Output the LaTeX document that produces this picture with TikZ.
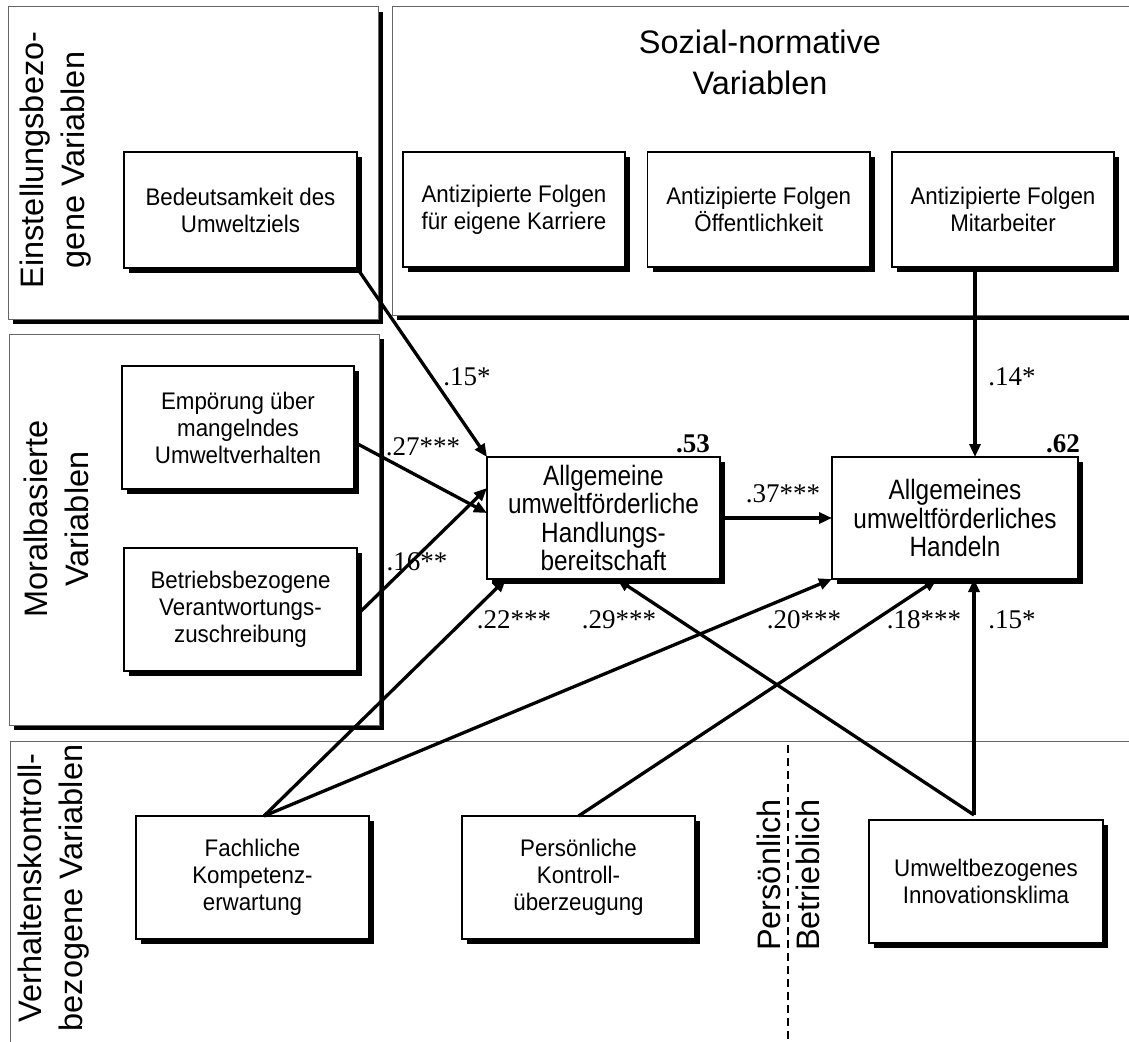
\documentclass[tikz,border=0pt]{standalone}
\usepackage{fontspec}
\setmainfont{Liberation Serif}
\setsansfont{Liberation Sans}
\newfontfamily\boxfont[FakeStretch=0.93]{Liberation Sans}
\newfontfamily\bigboxfont[FakeStretch=0.87]{Liberation Sans}
\usetikzlibrary{shadows,arrows.meta}
\begin{document}
\begin{tikzpicture}[x=1pt,y=-1pt,
  shad/.style={drop shadow={shadow xshift=5pt,shadow yshift=-5pt,fill=black,opacity=1}},
  panel/.style={draw=gray!80!black,line width=1pt,fill=white,shad,inner sep=0pt,outer sep=0pt},
  box/.style={draw=black,line width=1.2pt,fill=white,shad,inner sep=0pt,outer sep=0pt,align=center,
    font=\boxfont\fontsize{24}{27}\selectfont},
  bigbox/.style={box,font=\bigboxfont\fontsize{28}{28.4}\selectfont},
  grp/.style={font=\sffamily\fontsize{32.5}{41}\selectfont,align=center},
  coef/.style={font=\fontsize{27}{30}\selectfont,anchor=base,inner sep=0pt},
  arr/.style={line width=3.3pt,-{Triangle[length=13pt,width=11pt]}},
  sep/.style={line width=1.5pt,dash pattern=on 8pt off 5pt}
]
\useasboundingbox (0,0) rectangle (1129,1041);
\clip (0,0) rectangle (1129,1041);
\fill[white] (0,0) rectangle (1129,1041);

% panels
\node[panel,minimum width=370pt,minimum height=312pt] (p1) at (193,163) {};
\node[panel,minimum width=808pt,minimum height=308pt] (p2) at (796,161) {};
\node[panel,minimum width=370pt,minimum height=391pt] (p3) at (194,529.5) {};
\node[panel,minimum width=1190pt,minimum height=359pt] (p4) at (605,920.5) {};

% group labels
\node[grp,rotate=90] (l1) at (56,160) {Einstellungsbezo-\\gene Variablen};
\node[grp] (l2) at (760,62) {Sozial-normative\\Variablen};
\node[grp,rotate=90] (l3) at (56,519) {Moralbasierte\\Variablen};
\node[grp,rotate=90] (l4) at (54,888) {Verhaltenskontroll-\\bezogene Variablen};
\node[grp,rotate=90] (lp) at (769,875) {Persönlich};
\node[grp,rotate=90] (lb) at (808,875) {Betrieblich};
\coordinate (dtop) at (788,745);
\coordinate (dbot) at (788,1045);
\draw[sep] (dtop) -- (dbot);

% boxes
\node[box,minimum width=233pt,minimum height=116pt] (bed) at (240.5,210) {Bedeutsamkeit des\\Umweltziels};
\node[box,minimum width=222pt,minimum height=115pt] (a1) at (514,209.5) {Antizipierte Folgen\\für eigene Karriere};
\node[box,minimum width=222.5pt,minimum height=115pt] (a2) at (758.75,209.5) {Antizipierte Folgen\\Öffentlichkeit};
\node[box,minimum width=222pt,minimum height=115pt] (a3) at (1003,209.5) {Antizipierte Folgen\\Mitarbeiter};
\node[box,minimum width=232pt,minimum height=123pt] (emp) at (238,427.5) {Empörung über\\mangelndes\\Umweltverhalten};
\node[box,minimum width=233pt,minimum height=123pt] (bet) at (240.5,609.5) {Betriebsbezogene\\Verantwortungs-\\zuschreibung};
\node[bigbox,minimum width=233pt,minimum height=122pt] (hb) at (603.5,518) {Allgemeine\\umweltförderliche\\Handlungs-\\bereitschaft};
\node[bigbox,minimum width=246pt,minimum height=122pt] (hd) at (955,518) {Allgemeines\\umweltförderliches\\Handeln};
\node[box,minimum width=233pt,minimum height=123pt] (fach) at (252.5,877.5) {Fachliche\\Kompetenz-\\erwartung};
\node[box,minimum width=233pt,minimum height=123pt] (pers) at (578.5,877.5) {Persönliche\\Kontroll-\\überzeugung};
\node[box,minimum width=234pt,minimum height=123pt] (umw) at (986,881.5) {Umweltbezogenes\\Innovationsklima};

% apex points
\coordinate (fa) at ([xshift=11.5pt]fach.north);
\coordinate (ua) at ([xshift=-12pt,yshift=5pt]umw.north);

% connectors
\draw[arr] (bed.south east) -- (hb.north west);
\draw[arr] ([yshift=-14.5pt]emp.east) -- ([yshift=5pt]hb.west);
\draw[arr] ([yshift=-5.5pt]bet.east) -- ([yshift=30pt]hb.west);
\draw[arr] ([xshift=-28pt]a3.south) -- ([xshift=20pt]hd.north);
\draw[arr] (hb.east) -- (hd.west);
\draw[arr] (fa) -- ([xshift=19pt]hb.south west);
\draw[arr] (fa) -- (hd.south west);
\draw[arr] (pers.north) -- ([xshift=-18pt]hd.south);
\draw[arr] (ua) -- ([xshift=19pt]hd.south);
\draw[arr] (ua) -- ([xshift=13.5pt]hb.south);

% coefficients
\node[coef] (c1) at (467,385) {.15*};
\node[coef] (c2) at (423,455) {.27***};
\node[coef] (c3) at (417,570) {.16**};
\node[coef] (c4) at (1012,385) {.14*};
\node[coef,font=\bfseries\fontsize{27}{30}\selectfont] (r1) at (693,452) {.53};
\node[coef,font=\bfseries\fontsize{27}{30}\selectfont] (r2) at (1063,452) {.62};
\node[coef] (c5) at (783,502) {.37***};
\node[coef] (c6) at (514,628) {.22***};
\node[coef] (c7) at (619,628) {.29***};
\node[coef] (c8) at (804,628) {.20***};
\node[coef] (c9) at (924,628) {.18***};
\node[coef] (c10) at (1012,628) {.15*};
\end{tikzpicture}
\end{document}
